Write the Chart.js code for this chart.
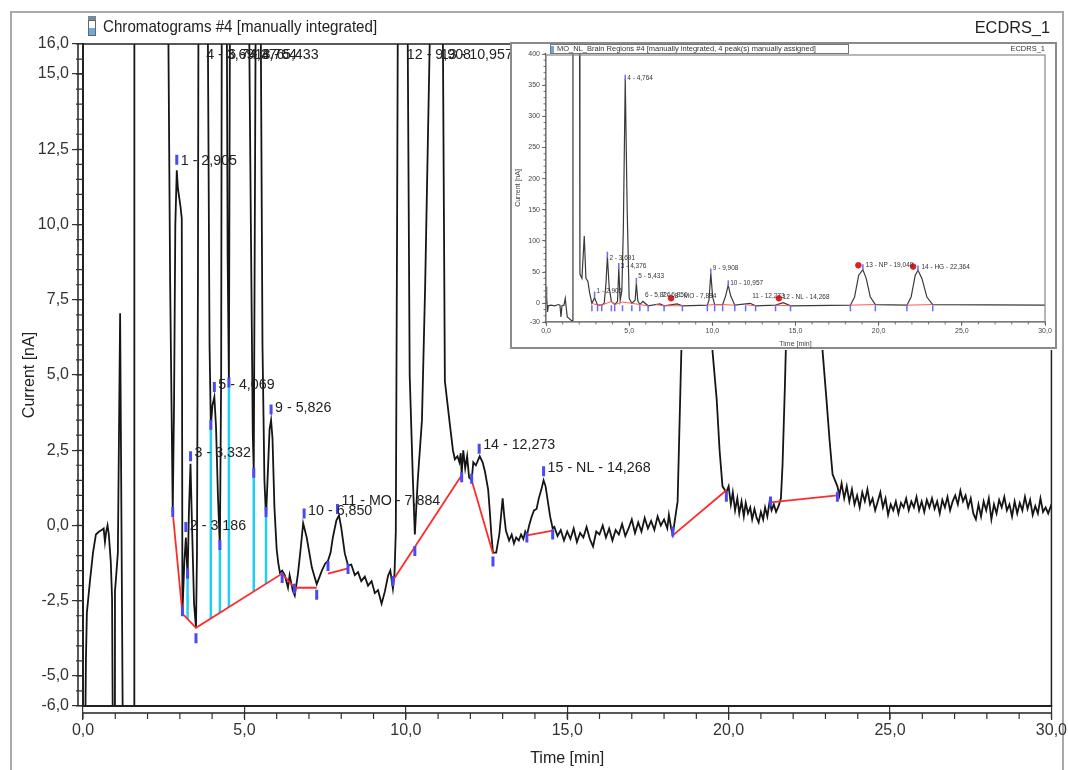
<!DOCTYPE html>
<html>
<head>
<meta charset="utf-8">
<script src="https://cdn.jsdelivr.net/npm/chart.js@4.4.1/dist/chart.umd.min.js"></script>
<style>
  html, body { margin: 0; padding: 0; background: #fff; }
  #wrap { position: relative; width: 1068px; height: 770px; overflow: hidden; }
  #main { position: absolute; left: 0; top: 0; }
  #inset { position: absolute; left: 510px; top: 42px; }
</style>
</head>
<body>
<div id="wrap">
  <canvas id="main" width="1068" height="770"></canvas>
  <canvas id="inset" width="548" height="308"></canvas>
</div>
<script>
// ---- main chromatogram (time in min, current in nA) ----
const traceTime = [
  0.00, 0.06, 0.09, 0.12, 0.22, 0.31, 0.40, 0.50, 0.58, 0.64, 0.68, 0.72, 0.76, 0.80, 0.86, 0.90, 0.93, 0.97, 0.99, 1.04, 1.08, 1.15, 1.24, 1.59, 1.62, 2.02, 2.05, 2.16, 2.30, 2.40, 2.52, 2.62, 2.70,
  2.78, 2.82, 2.86, 2.905, 2.94, 3.02, 3.06, 3.08, 3.14, 3.186, 3.21, 3.24, 3.28, 3.33, 3.37, 3.44, 3.50,
  3.53, 3.56, 3.60, 3.69, 3.78, 3.87, 3.92, 3.96, 4.01, 4.069, 4.12, 4.18, 4.24, 4.28, 4.32, 4.376, 4.43, 4.48, 4.52, 4.56, 4.65, 4.764, 4.88, 5.00, 5.12, 5.20, 5.26, 5.29, 5.33, 5.38, 5.433, 5.50, 5.56, 5.62, 5.67, 5.72, 5.78, 5.826, 5.87, 5.93, 6.00, 6.05,
  6.10, 6.17, 6.25, 6.35, 6.40, 6.50, 6.56, 6.66, 6.74, 6.82, 6.93, 7.01, 7.09, 7.17, 7.24, 7.33, 7.40, 7.50, 7.59, 7.67, 7.74, 7.85, 7.93, 8.00, 8.11, 8.21, 8.31, 8.42, 8.52, 8.62, 8.73, 8.83, 8.94, 9.04, 9.14, 9.25, 9.35, 9.45, 9.52, 9.60, 9.65,
  9.69, 9.73, 9.78, 9.908, 10.00, 10.06, 10.12, 10.22, 10.28, 10.37, 10.50, 10.60, 10.74, 10.85, 10.957, 11.05, 11.15, 11.21, 11.36, 11.46, 11.52, 11.60, 11.66, 11.70, 11.73, 11.78, 11.84, 11.90, 11.96,
  12.04, 12.09, 12.17, 12.29, 12.38, 12.45, 12.55, 12.60, 12.65, 12.70, 12.80, 12.90, 13.00, 13.05, 13.10, 13.20, 13.28, 13.35, 13.42, 13.50, 13.57, 13.64, 13.70, 13.75, 13.82, 13.90, 13.97, 14.05, 14.12, 14.20, 14.268, 14.33, 14.40, 14.47, 14.55,
  14.60, 14.70, 14.80, 14.90, 15.00, 15.10, 15.20, 15.30, 15.40, 15.50, 15.60, 15.70, 15.80, 15.90, 16.00, 16.10, 16.20, 16.30, 16.40, 16.50, 16.60, 16.70, 16.80, 16.90, 17.00, 17.10, 17.20, 17.30, 17.40, 17.50, 17.60, 17.70, 17.80, 17.90, 18.00, 18.10, 18.15, 18.22, 18.27,
  18.42, 18.54, 18.62, 18.75, 19.05, 19.30, 19.42, 19.50, 19.63, 19.72, 19.81, 19.93, 20.00, 20.07, 20.13, 20.20, 20.27, 20.33, 20.40, 20.47, 20.53, 20.60, 20.67, 20.73, 20.80, 20.87, 20.93, 21.00, 21.07, 21.13, 21.20, 21.27, 21.33, 21.40, 21.47, 21.55,
  21.62, 21.67, 21.74, 21.80, 21.95, 22.15, 22.364, 22.60, 22.80, 22.91, 23.03, 23.13, 23.22, 23.37, 23.43,
  23.50, 23.58, 23.66, 23.74, 23.82, 23.90, 23.98, 24.06, 24.14, 24.22, 24.30, 24.38, 24.46, 24.54, 24.62, 24.70, 24.78, 24.86, 24.94, 25.02,
  25.10, 25.18, 25.26, 25.34, 25.42, 25.50, 25.58, 25.66, 25.74, 25.82, 25.90, 25.98, 26.06, 26.14, 26.22, 26.30, 26.38, 26.46, 26.54, 26.62,
  26.70, 26.78, 26.86, 26.94, 27.02, 27.10, 27.18, 27.26, 27.34, 27.42, 27.50, 27.58, 27.66, 27.74, 27.82, 27.90, 27.98, 28.06, 28.14, 28.22,
  28.30, 28.38, 28.46, 28.54, 28.62, 28.70, 28.78, 28.86, 28.94, 29.02, 29.10, 29.18, 29.26, 29.34, 29.42, 29.50, 29.58, 29.66, 29.74, 29.82,
  29.90, 30.00
];
const traceCurrent = [
  -8, -8, -4.5, -2.9, -1.8, -0.9, -0.3, -0.2, -0.15, -0.1, -0.55, -0.2, 0.0, -0.3, -1.2, -2.4, -8, -8, -2.2, -1.5, -0.9, 7.05, -8, -8, 500, 500, 45, 40, 108, 40, 35, 20, 8,
  0.45, 4, 10, 11.8, 11.2, 10.6, 10.2, -2.9, -1.2, -0.4, -1.0, -1.75, 0.4, 2.05, 0.3, -2.6, -3.4,
  -1.0, 8, 30, 75, 40, 16, 6, 3.3, 4.0, 4.27, 3.3, 1.0, -0.73, 5, 30, 56, 25, 9, 4.7, 20, 120, 360, 150, 50, 20, 10, 3, 1.8, 12, 25, 32, 18, 6, 1.5, 0.27, 1.6, 3.2, 3.5, 2.9, 0.6, -0.8, -1.25,
  -1.57, -1.5, -1.65, -2.07, -1.65, -2.17, -2.33, -1.6, -0.8, 0.07, -0.4, -0.9, -1.4, -1.7, -1.95, -1.7, -1.5, -1.27, -1.17, -0.9, -0.4, 0.17, 0.33, -0.07, -0.93, -1.33, -1.3, -1.65, -1.55, -1.85, -1.7, -2.0, -1.85, -2.25, -2.15, -2.6, -2.2, -1.67, -1.5, -2.1, -1.6,
  -0.2, 10, 25, 48, 30, 16, 5, 1.5, -0.3, 1.5, 3.5, 8, 16, 24, 29, 22, 16, 4.8, 3.4, 2.5, 2.2, 2.3, 2.1, 2.4, 1.7, 2.5, 1.9, 2.3, 1.6,
  1.5, 2.1, 2.0, 2.3, 2.1, 1.8, 1.2, 0.5, -0.3, -0.9, -0.9, -0.27, 0.9, 0.3, -0.17, -0.5, -0.3, -0.6, -0.4, -0.5, -0.3, -0.45, -0.2, -0.33, 0.0, 0.3, 0.5, 0.55, 0.9, 1.2, 1.5, 1.3, 0.8, 0.3, -0.1,
  -0.05, -0.35, -0.15, -0.5, -0.2, -0.45, -0.1, -0.55, -0.25, -0.4, -0.05, -0.45, -0.7, -0.2, -0.3, 0.0, -0.4, -0.1, -0.5, -0.15, -0.3, 0.05, -0.35, -0.1, 0.2, -0.25, 0.1, -0.2, 0.25, -0.1, 0.15, -0.15, 0.3, 0.0, 0.2, -0.1, 0.35, -0.1, -0.3,
  0.8, 6, 16, 38, 53, 28, 12, 5.8, 4.2, 2.5, 1.3, 1.1, 1.3, 0.7, 1.1, 0.5, 0.9, 0.4, 0.8, 0.3, 0.75, 0.4, 0.6, 0.2, 0.55, 0.25, 0.1, 0.45, 0.2, 0.6, 0.3, 0.8, 0.5, 0.7, 0.45, 0.65,
  0.9, 2, 4.5, 7, 22, 45, 52, 30, 12, 5.8, 4.2, 2.8, 1.7, 1.3, 1.0,
  1.4, 0.9, 1.3, 0.8, 1.2, 0.7, 1.0, 0.6, 1.1, 0.8, 1.2, 0.7, 0.9, 0.5, 0.8, 1.1, 0.6, 0.9, 0.35, 0.7,
  0.5, 0.8, 0.4, 0.75, 0.6, 0.9, 0.5, 0.8, 0.6, 0.95, 0.5, 0.8, 0.45, 0.85, 0.6, 0.9, 0.55, 0.8, 0.4, 0.85,
  0.6, 0.95, 0.5, 0.8, 1.0, 0.7, 1.15, 0.8, 1.0, 0.6, 0.9, 0.4, 0.2, 0.7, 0.3, 0.8, 0.5, 0.9, 0.2, 0.7,
  0.4, 0.85, 0.6, 0.95, 0.5, 0.7, 0.3, 0.8, 0.4, 0.75, 0.5, 0.95, 0.55, 0.85, 0.35, 0.65, 0.4, 0.9, 0.45, 0.6,
  0.4, 0.7
];

// integration baseline (null current = break)
const baseTime    = [2.78, 3.08, 3.50, 6.17, 6.55, 7.24, 7.40, 7.59, 8.21, 9.00, 9.60, 11.73, 11.90, 12.04, 12.70, 13.20, 13.75, 14.55, 16.0, 18.27, 19.93, 20.5, 21.30, 23.37];
const baseCurrent = [0.43, -2.93, -3.40, -1.60, -2.07, -2.07, null, -1.60, -1.43, null, -1.83, 1.67, null, 1.50, -0.93, null, -0.33, -0.17, null, -0.33, 1.17, null, 0.77, 1.00];

// peak delimiter drop lines
const dropTime    = [3.24, 3.96, 4.24, 4.52, 5.29, 5.67];
const dropBase    = [-3.11, -3.09, -2.90, -2.71, -2.19, -1.93];
const dropTop     = [-1.75, 3.30, -0.73, 4.70, 1.80, 0.27];

// blue peak start/end/apex ticks
const markTime    = [2.78, 2.905, 3.08, 3.186, 3.24, 3.332, 3.50, 3.96, 4.069, 4.24, 4.52, 5.29, 5.67, 5.826, 6.17, 6.55, 6.85, 7.24, 7.59, 7.884, 8.21, 9.60, 10.28, 11.73, 12.04, 12.273, 12.70, 13.75, 14.268, 14.55, 18.27, 19.93, 21.30, 23.37];
const markCurrent = [0.45, 12.15, -2.85, -0.05, -1.6, 2.3, -3.75, 3.35, 4.6, -0.65, 4.75, 1.75, 0.45, 3.85, -1.75, -2.1, 0.4, -2.3, -1.35, 0.55, -1.45, -1.85, -0.85, 1.6, 1.55, 2.55, -1.2, -0.4, 1.8, -0.3, -0.2, 0.95, 0.8, 0.95];

const peakLabelText    = ['1 - 2,905', '2 - 3,186', '3 - 3,332', '4 - 3,691', '5 - 4,069', '6 - 4,376', '7 - 4,764', '8 - 5,433', '9 - 5,826', '10 - 6,850', '11 - MO - 7,884', '12 - 9,908', '13 - 10,957', '14 - 12,273', '15 - NL - 14,268'];
const peakLabelTime    = [2.905, 3.186, 3.332, 3.691, 4.069, 4.376, 4.764, 5.433, 5.826, 6.850, 7.884, 9.908, 10.957, 12.273, 14.268];
const peakLabelCurrent = [12.1, 0.0, 2.4, 15.63, 4.67, 15.63, 15.63, 15.63, 3.9, 0.5, 0.83, 15.63, 15.63, 2.67, 1.9];

const xTickValues = [0, 5, 10, 15, 20, 25, 30];
const yTickValues = [16, 15, 12.5, 10, 7.5, 5, 2.5, 0, -2.5, -5, -6];
const xMinorStep = 1;
const yMinorStep = 0.5;

// ---- inset: full-scale chromatogram ----
const insetTime = [
  0.00, 0.02, 0.06, 0.09, 0.14, 0.30, 0.52, 0.75, 0.84, 0.90, 0.96, 1.08, 1.16, 1.22, 1.28, 1.55, 1.58, 1.62, 2.00, 2.04, 2.16, 2.30, 2.40, 2.52, 2.62, 2.76,
  2.92, 3.10, 3.35, 3.50, 3.60, 3.691, 3.80, 3.93, 4.13, 4.30, 4.376, 4.46, 4.56, 4.65, 4.764, 4.88, 5.00, 5.16, 5.36, 5.433, 5.52, 5.64, 5.826, 6.14,
  6.85, 7.10, 7.884, 8.20, 9.70, 9.80, 9.908, 10.02, 10.14, 10.62, 10.80, 10.957, 11.10, 11.35, 12.273, 12.60, 13.80, 14.268, 14.70,
  18.30, 18.55, 18.80, 19.05, 19.25, 19.50, 19.80, 21.70, 21.95, 22.20, 22.364, 22.60, 22.90, 23.25, 30.00
];
const insetCurrent = [
  0, 27, 10, -14, -4, -3, -4, -2, -3, -22, -4, -3, 8, -8, -22, -28, -35, 700, 700, 47, 40, 108, 40, 35, 17, 0,
  9, -3, -3, 0, 30, 75, 25, 3, -2, 3, 56, 5, 20, 120, 360, 150, 8, 0, 5, 32, 4, -2, 3, -4,
  -1, -4, -1, -4, -3, 5, 48, 10, -2, -2, 12, 29, 12, -3, 0, -4, -3, 1, -4,
  -3, 10, 45, 54, 40, 10, -2, -3, 10, 45, 53, 40, 10, -2, -3
];
const insetBaseTime    = [2.76, 3.10, 3.35, 3.93, 4.13, 4.60, 5.16, 5.64, 6.14, 6.40, 6.60, 7.10, 8.20, 9.00, 9.70, 10.14, 10.62, 11.35, 11.70, 12.00, 12.60, 13.20, 13.80, 14.70, 16.0, 18.30, 19.80, 20.5, 21.70, 23.25];
const insetBaseCurrent = [0, -3, -3, 3, -2, 2, 0, -2, -4, null, -2, -4, -4, null, -3, -2, -2, -3, null, -2, -4, null, -3, -4, null, -3, -2, null, -3, -2];
const insetMarkTime    = [2.76, 3.10, 3.35, 3.93, 4.13, 4.60, 5.16, 5.64, 6.14, 7.10, 8.20, 9.70, 10.14, 10.62, 11.35, 12.00, 12.60, 13.80, 14.70, 18.30, 19.80, 21.70, 23.25, 2.92, 3.691, 4.376, 4.764, 5.433, 9.908, 10.957, 19.05, 22.364];
const insetMarkCurrent = [-8, -8, -8, -8, -8, -8, -8, -8, -8, -8, -8, -8, -8, -8, -8, -8, -8, -8, -8, -8, -8, -8, -8, 14, 78, 60, 362, 36, 51, 32, 58, 56];
const insetDotTime     = [7.52, 14.0, 18.78, 22.07];
const insetDotCurrent  = [8, 8, 61, 59];
const insetLabelText    = ['1 - 2,905', '2 - 3,691', '3 - 4,376', '4 - 4,764', '5 - 5,433', '6 - 5,826', '7 - 6,850', '8 - MO - 7,884', '9 - 9,908', '10 - 10,957', '11 - 12,273', '12 - NL - 14,268', '13 - NP - 19,048', '14 - HG - 22,364'];
const insetLabelTime    = [2.92, 3.691, 4.376, 4.764, 5.433, 5.826, 6.85, 7.6, 9.908, 10.957, 12.273, 14.1, 19.1, 22.45];
const insetLabelCurrent = [19, 72, 59, 361, 43, 13, 13, 11, 56, 32, 12, 10, 61, 58];
const insetYTicks = [400, 350, 300, 250, 200, 150, 100, 50, 0, -30];
const insetYMinorStep = 10;

const FONT = "'Liberation Sans', Arial, sans-serif";
Chart.defaults.font.family = FONT;

const fmt = v => v.toFixed(1).replace('.', ',');

function pairs(xs, ys) {
  const n = Math.min(xs.length, ys.length);
  const out = [];
  for (let i = 0; i < n; i++) out.push({ x: xs[i], y: ys[i] });
  return out;
}

function dropPairs() {
  const out = [];
  dropTime.forEach((t, i) => {
    out.push({ x: t, y: dropBase[i] }, { x: t, y: dropTop[i] }, { x: t, y: null });
  });
  return out;
}

function minorTicks(ctx, scale, step, horizontal, from, len) {
  const min = scale.min, max = scale.max;
  ctx.beginPath();
  for (let v = Math.ceil(min / step) * step; v <= max + 1e-9; v += step) {
    const p = scale.getPixelForValue(v);
    if (horizontal) { ctx.moveTo(p, from); ctx.lineTo(p, from + len); }
    else { ctx.moveTo(from, p); ctx.lineTo(from - len, p); }
  }
  ctx.stroke();
}

// narrow text, like the original software's font
function narrowText(ctx, text, x, y, sx) {
  ctx.save();
  ctx.translate(x, y);
  ctx.scale(sx, 1);
  ctx.fillText(text, 0, 0);
  ctx.restore();
}

const mainDecor = {
  id: 'mainDecor',
  beforeDraw(chart) {
    const { ctx, width, height } = chart;
    ctx.save();
    ctx.fillStyle = '#fff';
    ctx.fillRect(0, 0, width, height);
    ctx.strokeStyle = '#a9a9a9';
    ctx.lineWidth = 2;
    ctx.strokeRect(11, 12, width - 16, height + 10);
    ctx.restore();
  },
  afterDraw(chart) {
    const { ctx, chartArea: a, scales: { x, y } } = chart;
    ctx.save();
    ctx.strokeStyle = '#222';
    ctx.lineWidth = 1.5;
    ctx.strokeRect(a.left, a.top, a.right - a.left, a.bottom - a.top);
    ctx.beginPath();
    ctx.moveTo(a.left, a.bottom + 7); ctx.lineTo(a.right, a.bottom + 7);
    ctx.moveTo(a.left - 5, a.top); ctx.lineTo(a.left - 5, a.bottom);
    ctx.stroke();
    ctx.lineWidth = 1.2;
    ctx.strokeStyle = '#333';
    minorTicks(ctx, x, xMinorStep, true, a.bottom + 7, 6);
    minorTicks(ctx, y, yMinorStep, false, a.left, 7);

    // peak labels
    ctx.font = '15px ' + FONT;
    ctx.fillStyle = '#222';
    ctx.textBaseline = 'middle';
    peakLabelText.forEach((t, i) => {
      narrowText(ctx, t, x.getPixelForValue(peakLabelTime[i]) + 4, y.getPixelForValue(peakLabelCurrent[i]), 0.95);
    });

    // title bar
    ctx.fillStyle = '#7a8899';
    ctx.fillRect(88, 16, 8, 4);
    ctx.strokeStyle = '#666';
    ctx.lineWidth = 1;
    ctx.strokeRect(88.5, 20.5, 7, 15);
    ctx.fillStyle = '#6fa8dc';
    ctx.fillRect(89, 28, 6, 7);
    ctx.font = '17px ' + FONT;
    ctx.fillStyle = '#222';
    ctx.textAlign = 'left';
    narrowText(ctx, 'Chromatograms #4 [manually integrated]', 103, 27, 0.89);
    ctx.textAlign = 'right';
    narrowText(ctx, 'ECDRS_1', 1050, 28, 0.96);
    ctx.restore();
  }
};

new Chart(document.getElementById('main'), {
  type: 'line',
  data: {
    datasets: [
      { data: pairs(traceTime, traceCurrent), borderColor: '#151515', borderWidth: 1.8, pointRadius: 0, tension: 0, order: 2 },
      { data: pairs(baseTime, baseCurrent), borderColor: '#ff2b2b', borderWidth: 1.8, pointRadius: 0, spanGaps: false, order: 1 },
      { data: dropPairs(), borderColor: '#20d0f0', borderWidth: 2.5, pointRadius: 0, spanGaps: false, order: 3 },
      { type: 'scatter', data: pairs(markTime, markCurrent), pointStyle: 'line', rotation: 90, radius: 5, borderColor: '#4a4af5', borderWidth: 3, order: 0 }
    ]
  },
  options: {
    responsive: false,
    animation: false,
    events: [],
    layout: { padding: { left: 12, right: 15, top: 44, bottom: 0 } },
    plugins: { legend: { display: false }, tooltip: { enabled: false } },
    scales: {
      x: {
        type: 'linear', min: 0, max: 30,
        afterBuildTicks: ax => { ax.ticks = xTickValues.map(v => ({ value: v })); },
        afterFit: ax => { ax.height = 64; },
        ticks: { callback: v => fmt(v), color: '#333', font: { size: 16 }, padding: 1, maxRotation: 0, autoSkip: false },
        grid: { drawOnChartArea: false, tickLength: 14, color: '#333', lineWidth: 1.2 },
        border: { color: '#222', width: 2 },
        title: { display: true, text: 'Time [min]', color: '#222', font: { size: 16 }, padding: { top: 0, bottom: 2 } }
      },
      y: {
        type: 'linear', min: -6, max: 16,
        afterBuildTicks: ax => { ax.ticks = yTickValues.map(v => ({ value: v })); },
        afterFit: ax => { ax.width = 71; },
        ticks: { callback: v => fmt(v), color: '#333', font: { size: 16 }, padding: 3, autoSkip: false },
        grid: { drawOnChartArea: false, tickLength: 11, color: '#333', lineWidth: 1.2 },
        border: { color: '#222', width: 2 },
        title: { display: true, text: 'Current [nA]', color: '#222', font: { size: 16 }, padding: { top: 8, bottom: 0 } }
      }
    }
  },
  plugins: [mainDecor]
});

const insetDecor = {
  id: 'insetDecor',
  beforeDraw(chart) {
    const { ctx, width, height } = chart;
    ctx.save();
    ctx.fillStyle = '#fff';
    ctx.fillRect(0, 0, width, height);
    ctx.strokeStyle = '#8a8a8a';
    ctx.lineWidth = 2;
    ctx.strokeRect(1, 1, width - 3, height - 3);
    ctx.restore();
  },
  afterDraw(chart) {
    const { ctx, chartArea: a, scales: { x, y } } = chart;
    ctx.save();
    ctx.strokeStyle = '#888';
    ctx.lineWidth = 1.2;
    ctx.strokeRect(a.left, a.top + 1, a.right - a.left, a.bottom - a.top - 1);
    ctx.strokeStyle = '#555';
    ctx.lineWidth = 0.8;
    minorTicks(ctx, x, xMinorStep, true, a.bottom, 2.5);
    minorTicks(ctx, y, insetYMinorStep, false, a.left, 2.5);

    ctx.font = '6.5px ' + FONT;
    ctx.fillStyle = '#333';
    ctx.textBaseline = 'middle';
    insetLabelText.forEach((t, i) => {
      ctx.fillText(t, x.getPixelForValue(insetLabelTime[i]) + 2, y.getPixelForValue(insetLabelCurrent[i]));
    });

    // title bar
    ctx.fillStyle = '#fff';
    ctx.fillRect(40, 2, 299, 10);
    ctx.strokeStyle = '#777';
    ctx.lineWidth = 1;
    ctx.strokeRect(40.5, 2.5, 298, 9);
    ctx.fillStyle = '#6fa8dc';
    ctx.fillRect(41, 4, 3, 7);
    ctx.font = '7.5px ' + FONT;
    ctx.fillStyle = '#333';
    ctx.fillText('MO_NL_Brain Regions #4 [manually integrated, 4 peak(s) manually assigned]', 47, 7);
    ctx.textAlign = 'right';
    ctx.fillText('ECDRS_1', 535, 7);
    ctx.restore();
  }
};

new Chart(document.getElementById('inset'), {
  type: 'line',
  data: {
    datasets: [
      { data: pairs(insetTime, insetCurrent), borderColor: '#3a3a3a', borderWidth: 1.2, pointRadius: 0, tension: 0, order: 2 },
      { data: pairs(insetBaseTime, insetBaseCurrent), borderColor: '#ff5a5a', borderWidth: 1, pointRadius: 0, spanGaps: false, order: 1 },
      { type: 'scatter', data: pairs(insetMarkTime, insetMarkCurrent), pointStyle: 'line', rotation: 90, radius: 3, borderColor: '#6a6af5', borderWidth: 1.5, order: 0 },
      { type: 'scatter', data: pairs(insetDotTime, insetDotCurrent), pointStyle: 'circle', radius: 2.8, backgroundColor: '#e02020', borderColor: '#e02020', order: 0 }
    ]
  },
  options: {
    responsive: false,
    animation: false,
    events: [],
    layout: { padding: { left: 0, right: 13, top: 12, bottom: 0 } },
    plugins: { legend: { display: false }, tooltip: { enabled: false } },
    scales: {
      x: {
        type: 'linear', min: 0, max: 30,
        afterBuildTicks: ax => { ax.ticks = xTickValues.map(v => ({ value: v })); },
        afterFit: ax => { ax.height = 28; },
        ticks: { callback: v => fmt(v), color: '#444', font: { size: 7 }, padding: 1, maxRotation: 0, autoSkip: false },
        grid: { drawOnChartArea: false, tickLength: 4, color: '#555', lineWidth: 0.8 },
        border: { color: '#666', width: 1.2 },
        title: { display: true, text: 'Time [min]', color: '#444', font: { size: 7 }, padding: { top: 0, bottom: 2 } }
      },
      y: {
        type: 'linear', min: -30, max: 400,
        afterBuildTicks: ax => { ax.ticks = insetYTicks.map(v => ({ value: v })); },
        afterFit: ax => { ax.width = 36; },
        ticks: { color: '#444', font: { size: 7 }, padding: 2, autoSkip: false },
        grid: { drawOnChartArea: false, tickLength: 4, color: '#555', lineWidth: 0.8 },
        border: { color: '#666', width: 1.2 },
        title: { display: true, text: 'Current [nA]', color: '#444', font: { size: 7 }, padding: { top: 4, bottom: 0 } }
      }
    }
  },
  plugins: [insetDecor]
});
</script>
</body>
</html>
